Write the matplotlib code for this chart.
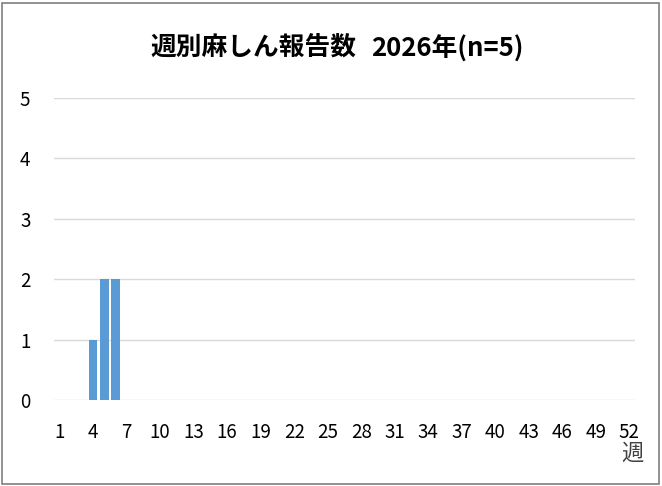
import matplotlib.pyplot as plt
from matplotlib.patches import Rectangle

plt.rcParams['font.family'] = ['Noto Sans CJK JP', 'DejaVu Sans']

weeks = list(range(1, 53))
counts = [0, 0, 0, 1, 2, 2, 0, 0, 0, 0, 0, 0, 0, 0, 0, 0, 0, 0, 0, 0,
          0, 0, 0, 0, 0, 0, 0, 0, 0, 0, 0, 0, 0, 0, 0, 0, 0, 0, 0, 0,
          0, 0, 0, 0, 0, 0, 0, 0, 0, 0, 0, 0]
tick_weeks = list(range(1, 53, 3))
title_jp = '週別麻しん報告数'
title_year = '2026年(n=5)'
x_unit = '週'

fig = plt.figure(figsize=(6.62, 4.86), dpi=100)
ax = fig.add_axes([54/662, 1 - 400/486, 581/662, 302/486])

ax.bar(weeks, counts, width=0.78, color='#5B9BD5', zorder=3)
ax.set_xlim(0.5, 52.5)
ax.set_ylim(0, 5)
ax.set_yticks(range(0, 6))
ax.set_xticks(tick_weeks)
ax.grid(axis='y', color='#D9D9D9', linewidth=1, zorder=0)
for s in ax.spines.values():
    s.set_visible(False)
ax.tick_params(axis='y', length=0, pad=17, labelsize=13.5, colors='black')
ax.tick_params(axis='x', length=0, pad=16, labelsize=13.5, colors='black')

# title in two pieces so the gap matches the original
fig.text(356/662, 1 - 55.5/486, title_jp, ha='right', va='baseline',
         fontsize=18.5, fontweight='bold')
fig.text(371/662, 1 - 57/486, title_year, ha='left', va='baseline',
         fontsize=18.5, fontweight='bold')
fig.text(643/662, 1 - 453/486, x_unit, ha='right', va='center',
         fontsize=16, color='#404040')

fig.patches.append(Rectangle((2/662, 2/486), 657/662, 481/486,
                             transform=fig.transFigure, fill=False,
                             edgecolor='#7F7F7F', linewidth=1.2))

fig.savefig('out.png', dpi=100)
